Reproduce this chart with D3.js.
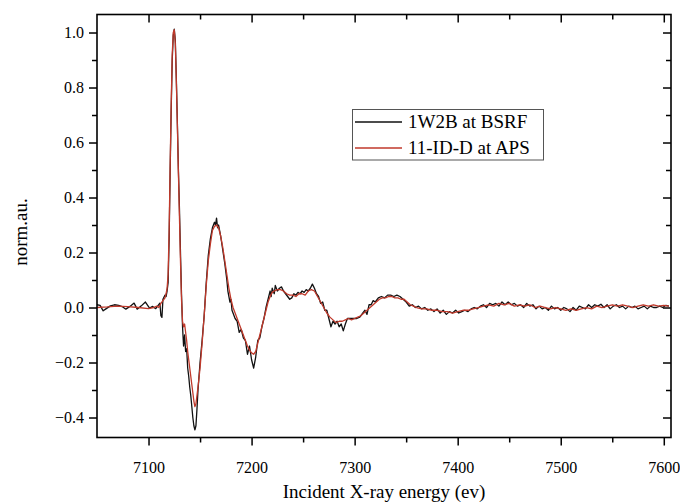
<!DOCTYPE html>
<html><head><meta charset="utf-8">
<script src="https://cdn.jsdelivr.net/npm/d3@7"></script>
<style>
html,body{margin:0;padding:0;background:#fff;}
svg text{font-family:"Liberation Serif","Times New Roman",serif;fill:#000;}
</style></head>
<body><svg id="chart" width="680" height="503"></svg>
<script>
// ---- data ----
const seriesNames = ["1W2B at BSRF", "11-ID-D at APS"];
const xTickValues = [7100, 7200, 7300, 7400, 7500, 7600];
const xMinorTicks = [7150, 7250, 7350, 7450, 7550];
const yTickValues = [-0.4, -0.2, 0.0, 0.2, 0.4, 0.6, 0.8, 1.0];
const yMinorTicks = [-0.3, -0.1, 0.1, 0.3, 0.5, 0.7, 0.9];

const bsrfEnergy = [7050,7053,7056,7059,7063,7067,7071,7075,7078,7082,7086,7089,7093,7097,7101,7104,7107,7109,7111,7112,7113,7114,7116,7117,7118,7119,7120,7121,7122,7123,7124,7125,7126,7127,7128,7129,7130,7131,7132,7133,7134,7135,7136,7137,7138,7139,7140,7141,7142,7143,7144,7145,7146,7147,7148,7149,7150,7152,7154,7156,7158,7160,7162,7163,7164,7165,7166,7167,7168,7170,7172,7174,7176,7177,7178,7179,7180,7181,7182,7184,7186,7188,7190,7192,7194,7196,7198,7200,7202,7204,7206,7208,7210,7212,7214,7216,7218,7219,7220,7222,7223,7225,7227,7229,7231,7233,7235,7237,7239,7241,7243,7245,7247,7249,7251,7253,7255,7257,7259,7261,7263,7265,7267,7269,7271,7273,7275,7277,7279,7281,7283,7285,7287,7289,7291,7293,7296,7299,7302,7305,7308,7310,7312,7314,7316,7318,7320,7323,7326,7329,7332,7335,7338,7341,7344,7347,7350,7353,7356,7359,7362,7365,7368,7371,7374,7377,7380,7383,7386,7389,7392,7395,7398,7401,7404,7407,7410,7413,7416,7419,7422,7425,7428,7431,7434,7437,7440,7443,7446,7449,7452,7455,7458,7461,7464,7467,7470,7473,7476,7479,7482,7485,7488,7491,7494,7497,7500,7503,7506,7509,7512,7515,7518,7521,7524,7527,7530,7533,7536,7539,7542,7545,7548,7551,7554,7557,7560,7563,7566,7569,7572,7575,7578,7581,7584,7587,7590,7593,7596,7599,7602,7605];
const bsrfValue = [0.010,0.008,-0.012,-0.004,0.006,0.010,0.008,0.002,-0.006,0.004,0.016,-0.006,0.006,0.020,-0.002,0.004,-0.004,0.006,0.016,-0.030,-0.036,0.030,0.045,0.040,0.060,0.09,0.25,0.50,0.72,0.90,0.99,1.012,0.97,0.83,0.67,0.50,0.36,0.20,0.05,-0.07,-0.14,-0.10,-0.16,-0.15,-0.22,-0.25,-0.29,-0.32,-0.36,-0.40,-0.43,-0.445,-0.43,-0.37,-0.30,-0.25,-0.20,-0.12,-0.03,0.09,0.19,0.25,0.29,0.30,0.31,0.30,0.325,0.29,0.30,0.26,0.21,0.16,0.10,0.06,0.04,0.02,0.03,-0.01,-0.02,-0.04,-0.05,-0.09,-0.08,-0.11,-0.12,-0.17,-0.14,-0.19,-0.22,-0.18,-0.12,-0.11,-0.07,-0.04,0.00,0.03,0.06,0.04,0.07,0.05,0.08,0.06,0.07,0.075,0.06,0.05,0.04,0.03,0.035,0.05,0.045,0.055,0.05,0.06,0.055,0.065,0.06,0.07,0.085,0.07,0.05,0.04,0.015,0.02,-0.01,-0.01,-0.04,-0.07,-0.05,-0.06,-0.05,-0.07,-0.06,-0.085,-0.06,-0.04,-0.04,-0.04,-0.04,-0.035,-0.02,-0.01,-0.025,0.01,0.01,0.025,0.02,0.035,0.04,0.035,0.045,0.045,0.04,0.045,0.04,0.03,0.02,0.005,0.01,0.0,0.005,-0.005,0.0,-0.01,-0.005,-0.015,-0.005,-0.02,-0.01,-0.025,-0.015,-0.02,-0.01,-0.02,-0.015,-0.01,-0.015,-0.005,0.0,-0.005,0.005,0.01,0.0,0.015,0.01,0.015,0.005,0.02,0.01,0.02,0.01,0.015,0.005,0.01,0.0,0.015,0.005,0.01,-0.005,0.005,-0.005,0.0,-0.01,0.005,-0.005,0.0,-0.01,0.0,-0.005,-0.015,0.0,-0.01,0.005,0.0,-0.005,0.01,0.0,0.01,0.005,0.012,0.0,0.01,-0.005,0.005,0.01,0.0,0.005,-0.005,0.005,0.0,0.005,-0.005,0.0,0.005,-0.005,0.005,0.0,0.0,0.005,0.0,0.008,0.005];

const apsEnergy = [7050,7060,7070,7080,7090,7100,7105,7108,7110,7112,7114,7116,7117,7118,7119,7120,7121,7122,7123,7124,7125,7126,7127,7128,7129,7130,7131,7132,7133,7134,7135,7136,7137,7138,7140,7142,7144,7145,7146,7148,7150,7152,7154,7156,7158,7160,7162,7164,7166,7168,7170,7172,7174,7176,7178,7180,7182,7184,7186,7188,7190,7192,7194,7196,7198,7200,7202,7204,7206,7208,7210,7212,7214,7216,7218,7220,7222,7225,7228,7231,7234,7237,7240,7243,7246,7249,7252,7255,7258,7261,7264,7267,7270,7273,7276,7279,7282,7285,7288,7291,7294,7297,7300,7303,7306,7309,7312,7315,7318,7321,7324,7327,7330,7333,7336,7339,7342,7345,7348,7351,7354,7357,7360,7365,7370,7375,7380,7385,7390,7395,7400,7405,7410,7415,7420,7425,7430,7435,7440,7445,7450,7455,7460,7465,7470,7475,7480,7485,7490,7495,7500,7505,7510,7515,7520,7525,7530,7535,7540,7545,7550,7555,7560,7565,7570,7575,7580,7585,7590,7595,7600,7605];
const apsValue = [0.0,0.002,0.005,0.003,0.0,-0.004,0.0,0.005,0.0,0.015,0.025,0.035,0.05,0.07,0.12,0.28,0.52,0.74,0.92,1.0,1.01,0.96,0.82,0.66,0.49,0.33,0.17,0.03,-0.05,-0.07,-0.06,-0.09,-0.12,-0.16,-0.22,-0.28,-0.34,-0.36,-0.35,-0.29,-0.22,-0.13,-0.03,0.08,0.17,0.23,0.28,0.295,0.30,0.29,0.26,0.22,0.17,0.12,0.07,0.03,0.0,-0.02,-0.04,-0.06,-0.08,-0.10,-0.12,-0.14,-0.155,-0.165,-0.17,-0.16,-0.13,-0.10,-0.07,-0.04,-0.01,0.02,0.04,0.055,0.06,0.065,0.065,0.06,0.05,0.045,0.045,0.04,0.05,0.05,0.045,0.06,0.065,0.06,0.04,0.02,0.0,-0.02,-0.035,-0.045,-0.055,-0.05,-0.05,-0.045,-0.04,-0.045,-0.04,-0.035,-0.03,-0.02,-0.01,0.0,0.01,0.02,0.03,0.035,0.035,0.04,0.04,0.035,0.035,0.03,0.03,0.02,0.01,0.005,0.0,-0.005,-0.005,-0.01,-0.01,-0.015,-0.015,-0.02,-0.015,-0.01,-0.01,-0.005,0.0,0.005,0.01,0.005,0.015,0.01,0.015,0.005,0.01,0.005,0.01,0.0,0.005,0.0,-0.005,0.0,-0.005,-0.01,-0.005,-0.01,-0.005,0.0,-0.005,0.005,0.0,0.005,0.01,0.005,0.01,0.005,0.0,0.005,0.01,0.005,0.01,0.005,0.008,0.005];

// ---- layout ----
const FONT = "'Liberation Serif','Times New Roman',serif";
const svg = d3.select("#chart");
const L = 97, R = 671, T = 14.5, B = 437.5;
const x = d3.scaleLinear().domain([7050, 7607]).range([L, R]);
const y = d3.scaleLinear().domain([-0.4727, 1.0655]).range([B, T]);

svg.append("clipPath").attr("id","clip").append("rect")
  .attr("x", L).attr("y", T).attr("width", R-L).attr("height", B-T);

function axisStyle(g){
  g.attr("font-family", FONT);
  g.select(".domain").remove();
  g.selectAll("line").attr("stroke","#000").attr("stroke-width",1.5);
}
// major ticks
svg.append("g").attr("transform",`translate(0,${B})`)
  .call(d3.axisBottom(x).tickValues(xTickValues).tickSize(8).tickFormat(d3.format("d")))
  .call(axisStyle)
  .call(g=>g.selectAll("text").attr("font-size",16).attr("dy","0").attr("y",35));
svg.append("g").attr("transform",`translate(0,${B})`)
  .call(d3.axisBottom(x).tickValues(xMinorTicks).tickSize(5).tickFormat(""))
  .call(axisStyle);
svg.append("g").attr("transform",`translate(0,${T})`)
  .call(d3.axisBottom(x).tickValues(xTickValues).tickSize(8).tickFormat(""))
  .call(axisStyle);
svg.append("g").attr("transform",`translate(0,${T})`)
  .call(d3.axisBottom(x).tickValues(xMinorTicks).tickSize(5).tickFormat(""))
  .call(axisStyle);

svg.append("g").attr("transform",`translate(${L},0)`)
  .call(d3.axisLeft(y).tickValues(yTickValues).tickSize(8).tickPadding(5).tickFormat(d3.format(".1f")))
  .call(axisStyle)
  .call(g=>g.selectAll("text").attr("font-size",16));
svg.append("g").attr("transform",`translate(${L},0)`)
  .call(d3.axisLeft(y).tickValues(yMinorTicks).tickSize(5).tickFormat(""))
  .call(axisStyle);
svg.append("g").attr("transform",`translate(${R},0)`)
  .call(d3.axisLeft(y).tickValues(yTickValues).tickSize(8).tickFormat(""))
  .call(axisStyle);
svg.append("g").attr("transform",`translate(${R},0)`)
  .call(d3.axisLeft(y).tickValues(yMinorTicks).tickSize(5).tickFormat(""))
  .call(axisStyle);

// lines
const line = d3.line().x(d=>x(d[0])).y(d=>y(d[1]));
const bsrf = bsrfEnergy.map((e,i)=>[e,bsrfValue[i]]);
const aps = apsEnergy.map((e,i)=>[e,apsValue[i]]);
const colors = ["#111111", "#c0392b"];
const plot = svg.append("g").attr("clip-path","url(#clip)");
plot.append("path").datum(bsrf).attr("d",line).attr("fill","none")
  .attr("stroke",colors[0]).attr("stroke-width",1.3).attr("stroke-linejoin","round");
plot.append("path").datum(aps).attr("d",line).attr("fill","none")
  .attr("stroke",colors[1]).attr("stroke-width",1.3).attr("stroke-linejoin","round");

// frame
svg.append("rect").attr("x",L).attr("y",T).attr("width",R-L).attr("height",B-T)
  .attr("fill","none").attr("stroke","#000").attr("stroke-width",1.6);

// axis titles
svg.append("text").attr("x",(L+R)/2).attr("y",498).attr("text-anchor","middle")
  .attr("font-size",19).text("Incident X-ray energy (ev)");
svg.append("text").attr("transform","translate(27,232) rotate(-90)").attr("text-anchor","middle")
  .attr("font-size",19).text("norm.au.");

// legend
const lg = svg.append("g");
lg.append("rect").attr("x",352.5).attr("y",109.5).attr("width",191).attr("height",50.5)
  .attr("fill","#fff").attr("stroke","#555").attr("stroke-width",1);
seriesNames.forEach((n,i)=>{
  const yy = 122 + i*26;
  lg.append("line").attr("x1",355).attr("x2",402).attr("y1",yy).attr("y2",yy)
    .attr("stroke",colors[i]).attr("stroke-width",1.3);
  lg.append("text").attr("x",408).attr("y",yy+6).attr("font-size",19).text(n);
});
</script></body></html>
